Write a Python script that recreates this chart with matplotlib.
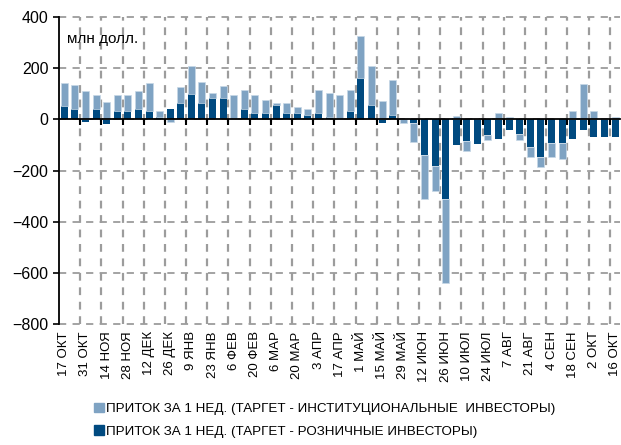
import numpy as np
import matplotlib
matplotlib.use('Agg')
import matplotlib.pyplot as plt
from matplotlib.patches import Patch

plt.rcParams['font.family'] = ['Liberation Sans', 'DejaVu Sans']

# weekly flows, mln USD (17 Oct 2012 - 16 Oct 2013)
retail = [51, 41, -11, 41, -17, 35, 35, 41, 35, 11,
          41, 64, 101, 63, 84, 84, 0, 40, 25, 25,
          55, 25, 25, 16, 25, 8, 0, 33, 164, 56,
          -12, 16, 0, -15, -139, -181, -310, -100, -84, -94,
          -61, -78, -42, -57, -108, -147, -91, -91, -78, -42,
          -70, -70, -70]
institutional = [93, 94, 111, 55, 67, 61, 61, 70, 108, 24,
                 -11, 62, 108, 85, 19, 48, 95, 77, 70, 52,
                 9, 39, 23, 24, 92, 95, 95, 84, 163, 153,
                 72, 140, -15, -71, -171, -99, -330, 14, -39, 0,
                 -20, 26, 10, -24, -37, -37, -54, -62, 32, 138,
                 32, 0, 10]
tick_labels = ['17 ОКТ', '31 ОКТ', '14 НОЯ', '28 НОЯ', '12 ДЕК', '26 ДЕК',
               '9 ЯНВ', '23 ЯНВ', '6 ФЕВ', '20 ФЕВ', '6 МАР', '20 МАР',
               '3 АПР', '17 АПР', '1 МАЙ', '15 МАЙ', '29 МАЙ', '12 ИЮН',
               '26 ИЮН', '10 ИЮЛ', '24 ИЮЛ', '7 АВГ', '21 АВГ', '4 СЕН',
               '18 СЕН', '2 ОКТ', '16 ОКТ']
legend_labels = ['ПРИТОК ЗА 1 НЕД. (ТАРГЕТ - ИНСТИТУЦИОНАЛЬНЫЕ  ИНВЕСТОРЫ)',
                 'ПРИТОК ЗА 1 НЕД. (ТАРГЕТ - РОЗНИЧНЫЕ ИНВЕСТОРЫ)']

light = '#7fa3c3'
dark = '#004a80'
grid_color = '#9c9c9c'

retail = np.array(retail)
institutional = np.array(institutional)
x = np.arange(len(retail))
# excel-style stacking: same sign stacks on top, opposite sign starts at zero
base = np.where(np.sign(institutional) == np.sign(retail), retail, 0)

fig = plt.figure(figsize=(6.21, 4.45), dpi=100)
ax = fig.add_axes([0.095, 0.2712, 0.904, 0.6904])

ax.bar(x, retail, width=0.66, color=dark, zorder=2)
ax.bar(x, institutional, bottom=base, width=0.66, color=light,
       edgecolor='#c8d8e6', linewidth=0.5, zorder=2)

ax.set_xlim(-0.5, len(x) - 0.5)
ax.set_ylim(-800, 400)
ax.set_yticks(range(-800, 401, 200))
ax.tick_params(axis='y', labelsize=11.5, length=4, width=1.2, direction='out')

ax.spines['top'].set_visible(False)
ax.spines['right'].set_visible(False)
ax.spines['left'].set_linewidth(1.3)
ax.spines['bottom'].set_position(('data', 0))
ax.spines['bottom'].set_linewidth(1.3)
ax.spines['bottom'].set_zorder(3)

bounds = np.arange(1.5, len(x) - 1, 2)
ax.set_xticks(bounds)
ax.tick_params(axis='x', length=4, width=1.5, direction='out', labelbottom=False)

sec = ax.secondary_xaxis(0.0)
sec.set_xticks(np.arange(0, len(x), 2))
sec.set_xticklabels(tick_labels, rotation=90, fontsize=9.5)
sec.tick_params(length=0, pad=5)
sec.spines['bottom'].set_visible(False)

# dashed grid: verticals between every second week, horizontals at each tick
ax.vlines(bounds, -800, 400, colors=grid_color, linestyles=(0, (3.5, 3)),
          linewidth=1.6, zorder=1)
for v in ax.get_yticks():
    ax.axhline(v, color=grid_color, linestyle=(0, (4, 3.5)), linewidth=1.3,
               zorder=0, clip_on=False)

ax.text(0.015, 0.93, 'млн долл.', transform=ax.transAxes, fontsize=11,
        va='center', ha='left')

handles = [Patch(color=light), Patch(color=dark)]
fig.legend(handles, legend_labels, loc='lower left', bbox_to_anchor=(0.14, 0.0),
           frameon=False, fontsize=9.6, handlelength=0.7, handleheight=0.7,
           handletextpad=0.2, labelspacing=0.75, borderaxespad=0.15)

fig.savefig('out.png', dpi=100)
